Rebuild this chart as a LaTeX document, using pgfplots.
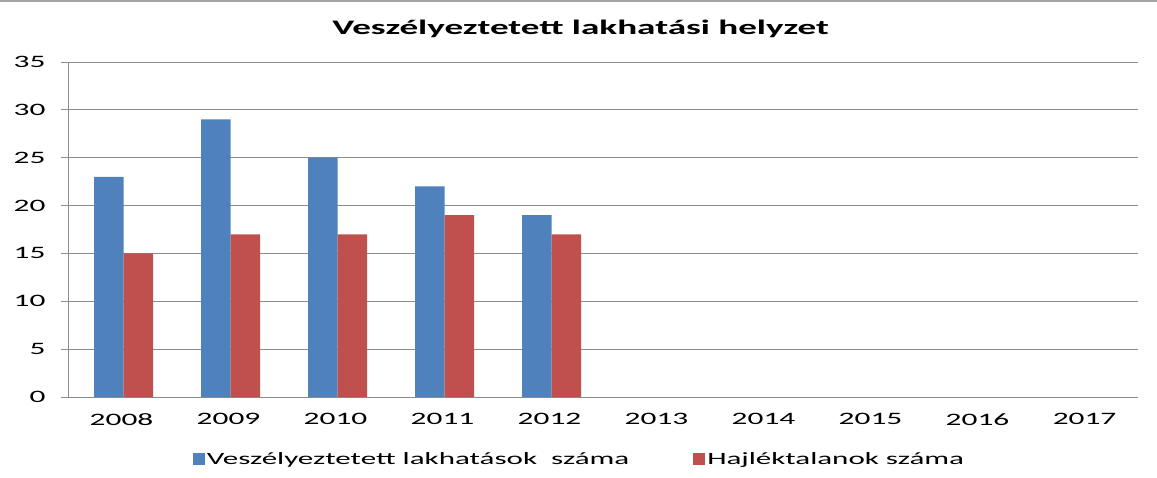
\documentclass[border=0pt]{standalone}
\usepackage{fontspec}
\setmainfont{Carlito}[FakeStretch=1.8]
\usepackage{pgfplots}
\pgfplotsset{compat=1.18}
\definecolor{blueS}{HTML}{4F81BD}
\definecolor{redS}{HTML}{C0504D}
\definecolor{gridc}{HTML}{8C8C8C}
\begin{document}
\begin{tikzpicture}
\path[use as bounding box] (-68bp,-81bp) rectangle (1089bp,397bp);
\draw[gridc!80, line width=2bp] (-68bp,396bp) -- (1089bp,396bp);
\begin{axis}[
  at={(0,0)}, anchor=south west,
  scale only axis, width=1070bp, height=335bp,
  ymin=0, ymax=35, ytick={0,5,...,35},
  xmin=-0.5, xmax=9.5,
  xtick={0,...,9},
  xticklabels={2008,2009,2010,2011,2012,2013,2014,2015,2016,2017},
  major x tick style={draw=none},
  extra x ticks={-0.5,0.5,...,9.5},
  extra x tick labels={},
  extra x tick style={grid=none, tick style={draw=gridc, line width=1pt}},
  ymajorgrids,
  grid style={gridc, line width=0.8pt},
  axis x line*=bottom, axis y line*=left,
  axis line style={gridc, line width=1pt},
  tick align=outside, major tick length=7bp,
  y tick style={draw=gridc, line width=0.8pt},
  /pgf/number format/assume math mode=true,
  ticklabel style={font=\fontsize{17.5}{20}\selectfont, text=black},
  yticklabel style={xshift=-12bp},
  xticklabel style={yshift=-6bp},
  ybar=0pt, bar width=29.5bp,
  title={Veszélyeztetett lakhatási helyzet},
  title style={at={(0.479,1.08)}, anchor=center, font=\bfseries\fontsize{20.7}{24}\selectfont},
  legend style={at={(0.478,-0.185)}, anchor=center, draw=none, fill=none,
    legend columns=2, font=\fontsize{17.3}{20}\selectfont,
    /tikz/every even column/.append style={column sep=62bp}},
  legend image code/.code={\fill[#1] (0bp,-6bp) rectangle (12bp,6bp);},
]
\addplot[fill=blueS, draw=none, xshift=2bp] coordinates {(0,23) (1,29) (2,25) (3,22) (4,19)};
\addplot[fill=redS, draw=none, xshift=2bp] coordinates {(0,15) (1,17) (2,17) (3,19) (4,17)};
\legend{Veszélyeztetett lakhatások\ \ száma, Hajléktalanok száma}
\end{axis}
\end{tikzpicture}
\end{document}
